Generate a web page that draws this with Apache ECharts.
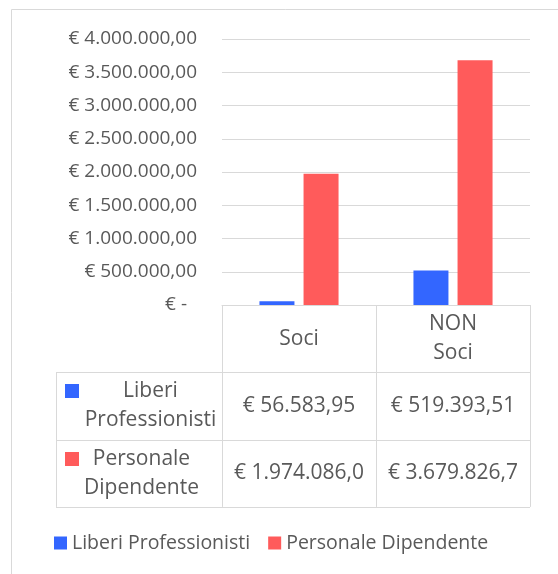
<!DOCTYPE html>
<html>
<head>
<meta charset="utf-8">
<title>Soci / NON Soci</title>
<script src="https://cdn.jsdelivr.net/npm/echarts@6/dist/echarts.min.js"></script>
<style>
  html, body { margin: 0; padding: 0; background: #fff; }
  #chart { width: 558px; height: 574px; }
</style>
</head>
<body>
<div id="chart"></div>
<script>
// dati
const categories = ['Soci', 'NON\nSoci'];
const seriesNames = ['Liberi Professionisti', 'Personale Dipendente'];
const rowLabels = ['Liberi\nProfessionisti', 'Personale\nDipendente'];
const liberiValues = [56583.95, 519393.51];
const dipendenteValues = [1974086.0, 3679826.7];
const liberiLabels = ['€ 56.583,95', '€ 519.393,51'];
const dipendenteLabels = ['€ 1.974.086,0', '€ 3.679.826,7'];
const yTicks = [0, 500000, 1000000, 1500000, 2000000, 2500000, 3000000, 3500000, 4000000];
const yTickLabels = ['€ -', '€ 500.000,00', '€ 1.000.000,00', '€ 1.500.000,00', '€ 2.000.000,00',
  '€ 2.500.000,00', '€ 3.000.000,00', '€ 3.500.000,00', '€ 4.000.000,00'];

const colors = ['#3366FF', '#FF5B5B'];
const textColor = '#595959';
const lineColor = '#D9D9D9';
const font = '"Open Sans", "Noto Sans", sans-serif';

// layout
const W = 558, H = 574;
const gridL = 222, gridR = 530, gridT = 39, gridB = 305;
const tableL = 56;
const rowH = 67.3;

const chart = echarts.init(document.getElementById('chart'));

function buildTable() {
  const els = [];
  const px = v => Math.round(v) + 0.5;
  const line = (x1, y1, x2, y2) => ({
    type: 'line', silent: true,
    shape: { x1: x1, y1: y1, x2: x2, y2: y2 },
    style: { stroke: lineColor, lineWidth: 1 }
  });
  const text = (x, y, s, size) => ({
    type: 'text', silent: true, x: x, y: y,
    style: {
      text: s, fill: textColor, font: size + 'px ' + font,
      align: 'center', verticalAlign: 'middle', lineHeight: 29
    }
  });

  // cornice esterna
  els.push({
    type: 'rect', silent: true,
    shape: { x: 11.5, y: 9.5, width: W + 20, height: H + 20 },
    style: { fill: null, stroke: lineColor, lineWidth: 1 }
  });

  const colW = (gridR - gridL) / categories.length;
  const y0 = gridB, y1 = gridB + rowH, y2 = gridB + 2 * rowH, y3 = gridB + 3 * rowH;

  // righe orizzontali
  [y1, y2, y3].forEach(y => els.push(line(tableL, px(y), gridR, px(y))));
  // verticali
  els.push(line(px(tableL), y1, px(tableL), y3));
  for (let i = 0; i <= categories.length; i++) {
    const x = px(gridL + i * colW);
    els.push(line(x, y0, x, y3));
  }

  // intestazioni colonne
  categories.forEach((c, i) => {
    els.push(text(gridL + (i + 0.5) * colW, (y0 + y1) / 2, c, 21));
  });

  // righe della tabella
  const rowVals = [liberiLabels, dipendenteLabels];
  const rowDx = [0, -9];
  rowLabels.forEach((lab, r) => {
    const top = gridB + (r + 1) * rowH;
    const mid = top + rowH / 2;
    els.push({
      type: 'rect', silent: true,
      shape: { x: tableL + 9, y: Math.round(top + 12), width: 14, height: 14 },
      style: { fill: colors[r] }
    });
    els.push(text((tableL + 23 + gridL) / 2 + rowDx[r], mid, lab, 21));
    rowVals[r].forEach((v, i) => {
      els.push(text(gridL + (i + 0.5) * colW, mid, v, 21));
    });
  });
  return els;
}

chart.setOption({
  animation: false,
  color: colors,
  textStyle: { fontFamily: font },
  grid: { left: gridL, right: W - gridR, top: gridT, bottom: H - gridB, containLabel: false },
  legend: {
    data: seriesNames,
    left: 54,
    top: 533,
    padding: 0,
    icon: 'rect',
    itemWidth: 13,
    itemHeight: 13,
    itemGap: 18,
    textStyle: { color: textColor, fontSize: 19.5, fontFamily: font }
  },
  xAxis: {
    type: 'category',
    data: categories,
    axisLine: { show: true, lineStyle: { color: lineColor, width: 1 } },
    axisTick: { show: false },
    axisLabel: { show: false }
  },
  yAxis: {
    type: 'value',
    min: 0,
    max: 4000000,
    interval: 500000,
    axisLine: { show: false },
    axisTick: { show: false },
    splitLine: { lineStyle: { color: lineColor, width: 1 } },
    axisLabel: {
      margin: 25,
      color: textColor,
      fontSize: 19,
      fontFamily: font,
      formatter: function (v) {
        const i = yTicks.indexOf(v);
        const s = i >= 0 ? yTickLabels[i] : '';
        return v === 0 ? '{z|' + s + '}' : s;
      },
      rich: { z: { color: textColor, fontSize: 19, fontFamily: font, padding: [0, 10, 0, 0] } }
    }
  },
  series: [
    {
      name: seriesNames[0],
      type: 'bar',
      data: liberiValues,
      barWidth: 35,
      barGap: '26%',
      itemStyle: { color: colors[0] }
    },
    {
      name: seriesNames[1],
      type: 'bar',
      data: dipendenteValues,
      barWidth: 35,
      barGap: '26%',
      itemStyle: { color: colors[1] }
    }
  ],
  graphic: buildTable()
});
</script>
</body>
</html>
